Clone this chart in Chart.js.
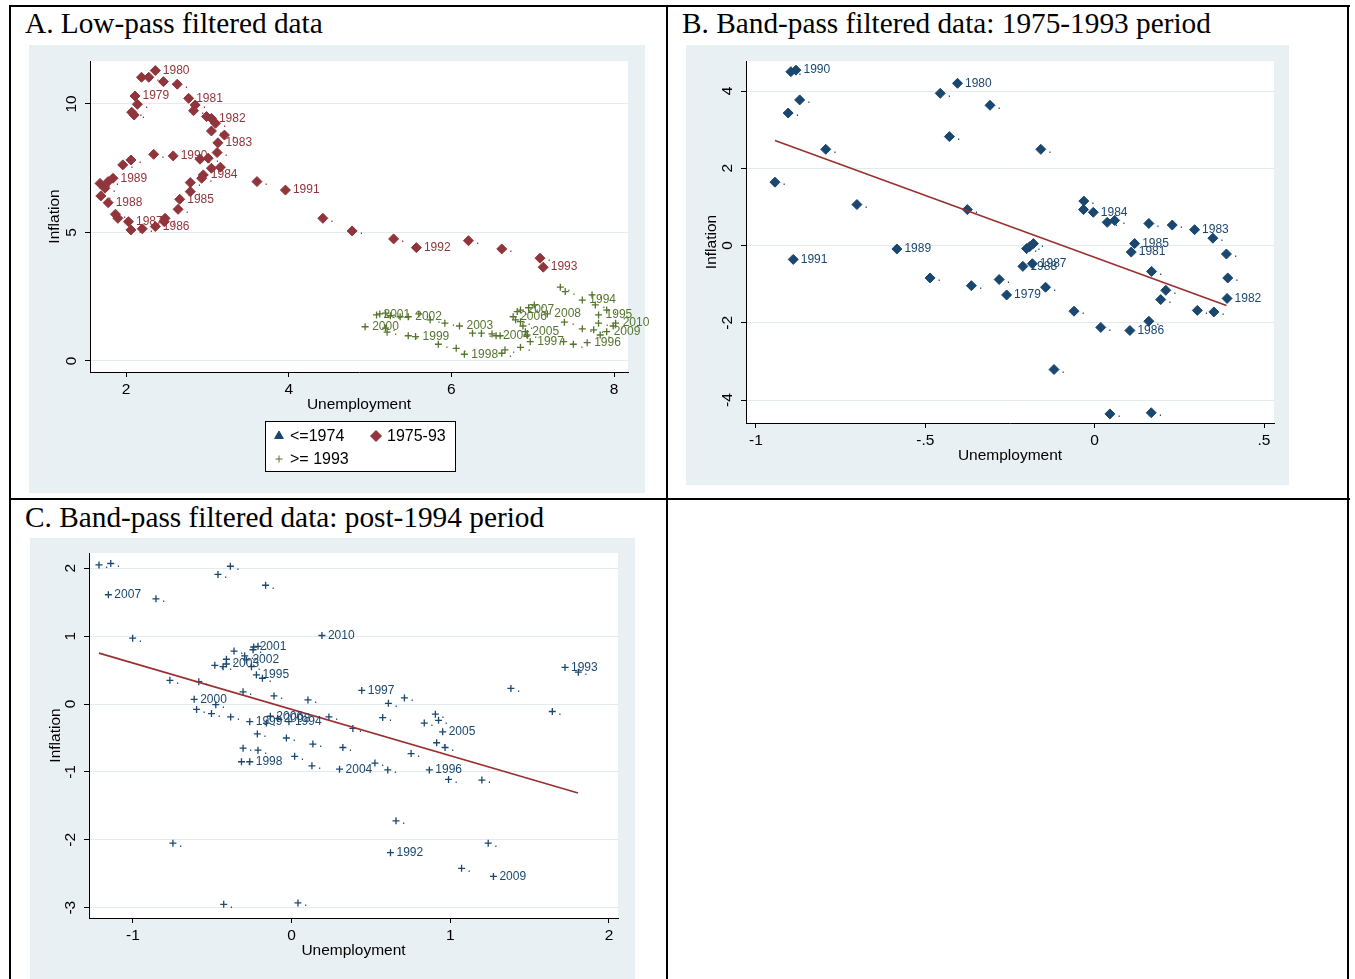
<!DOCTYPE html>
<html>
<head>
<meta charset="utf-8">
<script src="https://cdn.jsdelivr.net/npm/chart.js@4.4.1/dist/chart.umd.min.js"></script>
<style>
html, body { margin: 0; padding: 0; background: #fff; }
body { width: 1355px; height: 979px; position: relative; overflow: hidden; }
.rule { position: absolute; background: #000; }
.title { position: absolute; font-family: 'Liberation Serif', 'Times New Roman', serif; font-size: 29.3px; line-height: 29px; color: #000; white-space: nowrap; }
canvas { position: absolute; }
</style>
</head>
<body>
<div class="rule" style="left:9px;top:5px;width:1341px;height:2px"></div>
<div class="rule" style="left:9px;top:5px;width:2px;height:980px"></div>
<div class="rule" style="left:666px;top:5px;width:2px;height:980px"></div>
<div class="rule" style="left:1347px;top:5px;width:2px;height:980px"></div>
<div class="rule" style="left:9px;top:498px;width:1341px;height:2px"></div>

<div class="title" style="left:25px;top:9px">A. Low-pass filtered data</div>
<div class="title" style="left:682px;top:9px">B. Band-pass filtered data: 1975-1993 period</div>
<div class="title" style="left:25px;top:503px">C. Band-pass filtered data: post-1994 period</div>

<canvas id="chartA" width="626" height="448" style="left:29px;top:45px"></canvas>
<canvas id="chartB" width="603" height="440" style="left:686px;top:45px"></canvas>
<canvas id="chartC" width="605" height="448" style="left:30px;top:538px"></canvas>

<script>
// ---- panel A: low-pass filtered ----
const aRedUnemp = [2.36, 2.19, 2.28, 2.46, 2.63, 2.11, 2.14, 2.07, 2.10, 2.77, 2.85, 2.83, 2.99, 3.05, 3.10, 3.05, 3.21, 3.13, 3.12, 2.34,
  2.58, 2.91, 3.01, 3.05, 3.16, 2.95, 2.93, 2.79, 2.79, 2.66, 2.64, 2.48, 2.47, 2.36, 2.20, 2.06, 2.03, 1.90, 1.87, 1.78,
  1.69, 1.74, 1.68, 1.78, 1.84, 1.96, 2.06, 3.61, 3.96, 4.42, 4.78, 5.29, 5.57, 6.21, 6.62, 7.09, 7.13];
const aRedInfl = [11.30, 11.04, 11.04, 10.87, 10.77, 10.31, 9.99, 9.68, 9.57, 10.22, 9.96, 9.74, 9.51, 9.44, 9.25, 8.95, 8.79, 8.49, 8.11, 8.04,
  7.98, 7.85, 7.89, 7.50, 7.54, 7.24, 7.11, 6.94, 6.59, 6.29, 5.90, 5.55, 5.42, 5.23, 5.14, 5.10, 5.42, 5.55, 5.71, 6.16,
  6.42, 6.72, 6.91, 6.98, 7.11, 7.63, 7.82, 6.98, 6.65, 5.55, 5.06, 4.75, 4.41, 4.68, 4.36, 4.00, 3.65];
const aRedYear = ["1980", "", "", "", "", "1979", "", "", "", "1981", "", "", "", "1982", "", "", "", "1983", "", "",
  "1990", "", "", "", "", "1984", "", "", "", "1985", "", "", "", "1986", "", "", "1987", "", "", "1988",
  "", "", "", "", "1989", "", "", "", "1991", "", "", "", "1992", "", "", "", "1993"];

const aGreenUnemp = [7.34, 7.40, 7.61, 7.73, 7.77, 7.91, 7.81, 7.81, 8.02, 7.99, 7.91, 7.83, 7.75, 7.61, 7.67, 7.50, 7.38, 6.97, 6.85, 6.66,
  6.62, 6.16, 6.06, 5.84, 5.56, 5.47, 5.21, 5.19, 4.94, 5.08, 5.12, 5.19, 5.25, 5.37, 5.47, 5.60, 5.74, 5.92, 6.10, 6.26,
  6.37, 6.50, 6.55, 6.60, 6.91, 6.93, 6.88, 6.76, 6.79, 6.85, 6.81, 6.85, 6.95, 7.02, 7.18, 7.39];
const aGreenInfl = [2.87, 2.70, 2.37, 2.57, 2.18, 1.98, 1.79, 1.47, 1.47, 1.36, 1.14, 1.01, 1.21, 1.25, 0.71, 0.65, 0.75, 0.75, 0.53, 0.43,
  0.30, 0.26, 0.49, 0.65, 0.95, 0.98, 1.12, 1.28, 1.33, 1.79, 1.83, 1.86, 1.76, 1.72, 1.72, 1.83, 1.60, 1.47, 1.36, 1.08,
  1.08, 1.05, 0.98, 0.98, 1.14, 1.01, 1.36, 1.72, 1.60, 1.53, 1.92, 1.98, 2.07, 2.18, 1.83, 1.51];
const aGreenYear = ["", "", "1994", "", "", "", "1995", "", "2010", "", "2009", "", "", "", "1996", "", "", "1997", "", "",
  "", "1998", "", "", "1999", "", "", "", "2000", "2001", "", "", "", "", "2002", "", "", "", "2003", "",
  "", "", "2004", "", "2005", "", "", "2006", "", "", "", "2007", "", "", "2008", ""];

const aXTicks = [2, 4, 6, 8];
const aYTicks = [0, 5, 10];
const aGroups = ["<=1974", "1975-93", ">= 1993"];

// ---- panel B: band-pass 1975-1993 ----
const bUnemp = [-0.882, -0.897, -0.871, -0.905, -0.794, -0.944, -0.702, -0.376, -0.584, -0.456, -0.405, -0.309, -0.429, -0.159, -0.890, -0.486, -0.364,
  -0.282, -0.032, -0.033, -0.004, 0.037, 0.059, 0.160, 0.229, 0.295, 0.349, 0.389, 0.393, 0.391, 0.352, 0.303, 0.210, 0.195,
  0.168, 0.118, 0.108, 0.104, 0.160, 0.018, -0.061, -0.120, 0.045, 0.167, -0.181, -0.192, -0.201, -0.184, -0.212, -0.145, -0.260];
const bInfl = [4.54, 4.50, 3.77, 3.43, 2.49, 1.64, 1.06, 0.93, -0.09, 3.94, 4.20, 3.63, 2.82, 2.49, -0.36, -0.84, -1.04,
  -0.88, 1.15, 0.93, 0.86, 0.60, 0.65, 0.57, 0.53, 0.41, 0.19, -0.22, -0.84, -1.37, -1.72, -1.68, -1.16, -1.40,
  -0.67, 0.05, -0.17, -2.20, -1.96, -2.12, -1.70, -3.21, -4.36, -4.33, 0.05, -0.03, -0.08, -0.47, -0.54, -1.08, -1.28];
const bYear = ["1990", "", "", "", "", "", "", "", "1989", "", "1980", "", "", "", "1991", "", "",
  "", "", "", "1984", "", "", "", "", "1983", "", "", "", "1982", "", "", "", "",
  "", "1985", "1981", "1986", "", "", "", "", "", "", "", "", "", "1987", "1988", "", "1979"];
const bFitUnemp = [-0.944, 0.389];
const bFitInfl = [2.72, -1.55];
const bXTicks = [-1, -0.5, 0, 0.5];
const bYTicks = [-4, -2, 0, 2, 4];

// ---- panel C: band-pass post-1994 ----
const cUnemp = [-1.214, -1.140, -1.155, -0.855, -1.002, -0.464, -0.386, -0.164, 0.191, -0.767, -0.585, -0.614, -0.599, -0.505, -0.478, -0.384,
  -0.306, -0.484, -0.432, -0.411, -0.411, -0.363, -0.296, -0.243, -0.239, -0.212, -0.285, -0.253, -0.222, -0.184, -0.111, -0.264,
  -0.159, -0.134, -0.088, -0.017, -0.216, -0.033, -0.306, -0.212, -0.316, -0.264, 0.019, 0.134, 0.128, 0.103, 0.235, 0.323,
  0.386, 0.302, 0.525, 0.606, 0.442, 0.574, 0.610, 0.711, 0.753, 0.836, 0.906, 0.926, 0.952, 0.914, 0.967, 0.868,
  0.989, 1.199, 1.382, 1.643, 1.723, 1.807, 0.658, 0.623, 1.239, 1.071, 1.272, 0.040, -0.748, -0.428];
const cInfl = [2.05, 2.07, 1.61, 1.55, 0.97, 1.91, 2.03, 1.75, 1.01, 0.35, 0.33, 0.07, -0.08, -0.14, -0.01, -0.19,
  0.18, 0.57, 0.55, 0.66, 0.59, 0.78, 0.71, 0.80, 0.84, 0.85, 0.65, 0.55, 0.43, 0.38, 0.12, -0.26,
  -0.28, -0.18, -0.21, -0.26, -0.44, -0.50, -0.65, -0.68, -0.85, -0.85, -0.77, -0.59, -0.91, 0.06, -0.19, -0.64,
  -0.36, -0.96, -0.87, -0.97, 0.20, -0.20, 0.01, 0.09, -0.73, -0.28, -0.15, -0.24, -0.41, -0.57, -0.64, -0.97,
  -1.11, -1.12, 0.23, -0.11, 0.54, 0.47, -1.72, -2.19, -2.05, -2.42, -2.54, -2.93, -2.05, -2.95];
const cYear = ["", "", "2007", "", "", "", "", "", "2010", "", "", "2000", "", "", "", "",
  "", "", "", "", "2003", "", "", "", "2001", "", "2002", "", "1995", "", "", "1999",
  "", "2006", "2008", "1994", "", "", "", "", "", "1998", "", "", "", "", "", "",
  "", "2004", "", "", "1997", "", "", "", "", "", "", "", "2005", "", "", "1996",
  "", "", "", "", "1993", "", "", "1992", "", "", "2009", "", "", ""];
const cFitUnemp = [-1.214, 1.805];
const cFitInfl = [0.75, -1.31];
const cXTicks = [-1, 0, 1, 2];
const cYTicks = [-3, -2, -1, 0, 1, 2];

// ---- styling ----
const FONT = "'Liberation Sans', Arial, Helvetica, sans-serif";
Chart.defaults.font.family = FONT;
Chart.defaults.color = '#000';
const navy = '#1a476f';
const cranberry = '#90353b';
const forest = '#55752f';
const fitRed = '#9b2f2f';
const panelBg = '#e9f0f3';
const gridCol = '#e3ebee';

function stataNum(v) {
  return String(v).replace(/^(-?)0\./, '$1.');
}

function pts(xs, ys) {
  return xs.map((x, i) => ({ x: x, y: ys[i] }));
}

const panelPlugin = {
  id: 'panel',
  beforeDraw(chart, args, opts) {
    const { ctx, chartArea: a, width, height } = chart;
    ctx.save();
    ctx.fillStyle = panelBg;
    ctx.fillRect(0, 0, opts.bgWidth || width, height);
    ctx.fillStyle = '#fff';
    ctx.fillRect(a.left, a.top, a.right - a.left, a.bottom - a.top);
    ctx.restore();
  },
  afterDatasetsDraw(chart) {
    const ctx = chart.ctx;
    ctx.save();
    ctx.font = '12px ' + FONT;
    ctx.textBaseline = 'middle';
    ctx.textAlign = 'left';
    chart.data.datasets.forEach((ds, i) => {
      if (!ds.markLabels) return;
      const meta = chart.getDatasetMeta(i);
      ctx.fillStyle = ds.borderColor;
      meta.data.forEach((el, j) => {
        ctx.fillText(ds.markLabels[j] || '.', el.x + ds.labelGap, el.y);
      });
    });
    ctx.restore();
  },
  afterDraw(chart, args, opts) {
    const ctx = chart.ctx;
    const ys = chart.scales.y;
    ctx.save();
    // y tick labels, rotated like Stata
    ctx.font = '15.5px ' + FONT;
    ctx.fillStyle = '#000';
    ctx.textAlign = 'center';
    ctx.textBaseline = 'middle';
    ys.ticks.forEach(t => {
      ctx.save();
      ctx.translate(chart.chartArea.left - 18, ys.getPixelForValue(t.value));
      ctx.rotate(-Math.PI / 2);
      ctx.fillText(stataNum(t.value), 0, 0);
      ctx.restore();
    });
    // legend box
    const lg = opts.legendBox;
    if (lg) {
      ctx.fillStyle = '#fff';
      ctx.fillRect(lg.left, lg.top, lg.width, lg.height);
      ctx.strokeStyle = '#000';
      ctx.lineWidth = 1;
      ctx.strokeRect(lg.left + 0.5, lg.top + 0.5, lg.width, lg.height);
      ctx.font = '16px ' + FONT;
      ctx.textAlign = 'left';
      chart.data.datasets.forEach((ds, i) => {
        if (!ds.inLegend) return;
        const cx = lg.cols[i % 2];
        const cy = lg.rows[Math.floor(i / 2)];
        ctx.fillStyle = ds.backgroundColor;
        ctx.strokeStyle = ds.borderColor;
        Chart.helpers.drawPoint(ctx, { pointStyle: ds.pointStyle, radius: ds.legendRadius, borderWidth: ds.borderWidth, rotation: 0 }, cx, cy);
        ctx.fillStyle = '#000';
        ctx.fillText(ds.label, cx + lg.textGap, cy + 1);
      });
    }
    ctx.restore();
  }
};

function makeScales(p) {
  return {
    x: {
      type: 'linear',
      min: p.xMin,
      max: p.xMax,
      afterBuildTicks: s => { s.ticks = p.xTicks.map(v => ({ value: v })); },
      afterFit: s => { s.height = 42; },
      grid: { drawOnChartArea: false, drawTicks: true, tickLength: 5, tickColor: '#000', tickWidth: 1 },
      border: { display: true, color: '#000', width: 1 },
      ticks: { autoSkip: false, maxRotation: 0, minRotation: 0, padding: 3, color: '#000', font: { size: 15.5 }, callback: v => stataNum(v) },
      title: { display: true, text: 'Unemployment', color: '#000', font: { size: 15.5 }, padding: { top: 0, bottom: 0 } }
    },
    y: {
      type: 'linear',
      min: p.yMin,
      max: p.yMax,
      afterBuildTicks: s => { s.ticks = p.yTicks.map(v => ({ value: v })); },
      afterFit: s => { s.width = p.yWidth; },
      grid: { color: gridCol, lineWidth: 1, drawTicks: true, tickLength: 5, tickColor: '#000', tickWidth: 1 },
      border: { display: true, color: '#000', width: 1 },
      ticks: { display: false },
      title: { display: true, text: 'Inflation', color: '#000', font: { size: 15.5 }, padding: { top: 16, bottom: 0 } }
    }
  };
}

function baseOptions(p, pad, panelOpts) {
  return {
    responsive: false,
    animation: false,
    devicePixelRatio: 1,
    layout: { padding: pad },
    scales: makeScales(p),
    plugins: { legend: { display: false }, tooltip: { enabled: false }, panel: panelOpts || {} }
  };
}

// Panel A (canvas a bit wider than the grey panel so the 2010 label can overflow it)
new Chart(document.getElementById('chartA'), {
  type: 'scatter',
  data: {
    datasets: [
      { label: aGroups[0], data: [], pointStyle: 'triangle', backgroundColor: navy, borderColor: navy, borderWidth: 1, legendRadius: 5, inLegend: true },
      { label: aGroups[1], data: pts(aRedUnemp, aRedInfl), pointStyle: 'rectRot', pointRadius: 5, backgroundColor: cranberry, borderColor: cranberry,
        borderWidth: 1, markLabels: aRedYear, labelGap: 7.5, legendRadius: 5.5, inLegend: true },
      { label: aGroups[2], data: pts(aGreenUnemp, aGreenInfl), pointStyle: 'cross', pointRadius: 3.5, backgroundColor: forest, borderColor: forest,
        borderWidth: 1.3, markLabels: aGreenYear, labelGap: 7, legendRadius: 3.5, inLegend: true }
    ]
  },
  options: baseOptions(
    { xMin: 1.557, xMax: 8.172, yMin: -0.43, yMax: 11.673, xTicks: aXTicks, yTicks: aYTicks, yWidth: 61 },
    { left: 0, top: 16, right: 27, bottom: 79 },
    { bgWidth: 616, legendBox: { left: 236, top: 376, width: 190, height: 50, cols: [250, 347], rows: [391, 414], textGap: 11 } }
  ),
  plugins: [panelPlugin]
});

// Panel B
new Chart(document.getElementById('chartB'), {
  type: 'scatter',
  data: {
    datasets: [
      { label: 'Fitted values', data: pts(bFitUnemp, bFitInfl), showLine: true, pointRadius: 0, borderColor: fitRed, borderWidth: 1.6, order: 0 },
      { label: 'Inflation', data: pts(bUnemp, bInfl), pointStyle: 'rectRot', pointRadius: 5, backgroundColor: navy, borderColor: navy,
        borderWidth: 1, markLabels: bYear, labelGap: 7.5, order: 1 }
    ]
  },
  options: baseOptions(
    { xMin: -1.0295, xMax: 0.5295, yMin: -4.595, yMax: 4.777, xTicks: bXTicks, yTicks: bYTicks, yWidth: 60 },
    { left: 0, top: 16, right: 15, bottom: 20 }
  ),
  plugins: [panelPlugin]
});

// Panel C
new Chart(document.getElementById('chartC'), {
  type: 'scatter',
  data: {
    datasets: [
      { label: 'Fitted values', data: pts(cFitUnemp, cFitInfl), showLine: true, pointRadius: 0, borderColor: fitRed, borderWidth: 1.6, order: 0 },
      { label: 'Inflation', data: pts(cUnemp, cInfl), pointStyle: 'cross', pointRadius: 3.5, backgroundColor: navy, borderColor: navy,
        borderWidth: 1.3, markLabels: cYear, labelGap: 6, order: 1 }
    ]
  },
  options: baseOptions(
    { xMin: -1.277, xMax: 2.057, yMin: -3.152, yMax: 2.225, xTicks: cXTicks, yTicks: cYTicks, yWidth: 59 },
    { left: 0, top: 15, right: 17, bottom: 26 }
  ),
  plugins: [panelPlugin]
});
</script>
</body>
</html>
